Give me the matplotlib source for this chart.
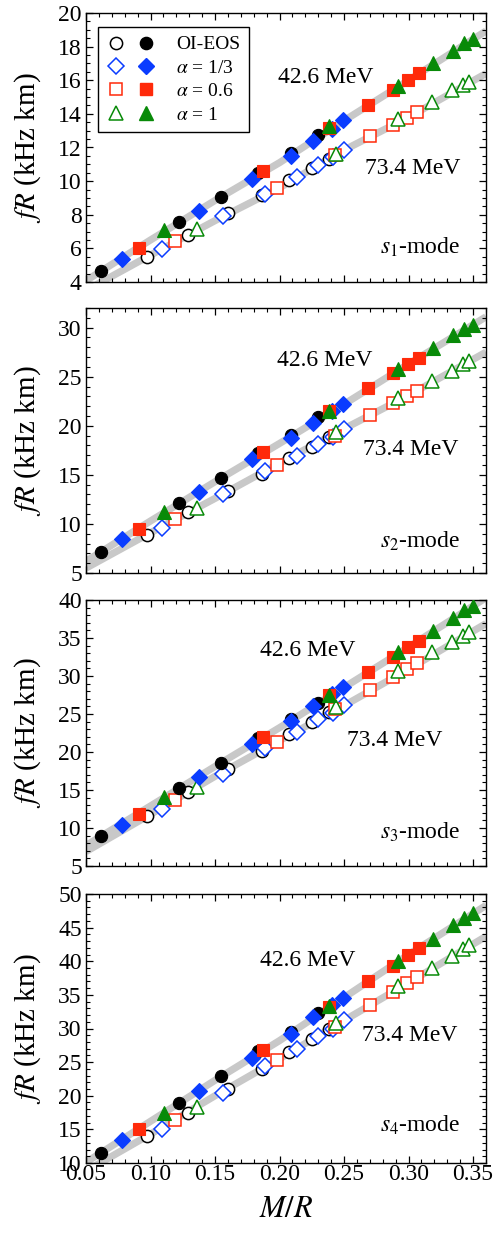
"""
fR versus compactness M/R for the s1..s4 modes, two crust stiffness fits.
"""

import matplotlib

matplotlib.use("Agg")
import matplotlib.pyplot as plt
from matplotlib.legend_handler import HandlerTuple
from matplotlib.lines import Line2D
from matplotlib.ticker import MultipleLocator, FormatStrFormatter

plt.rcParams["font.family"] = ["Liberation Serif", "DejaVu Serif"]
plt.rcParams["mathtext.fontset"] = "stix"

# compactness of each model (same in every panel)
X_OI_FILLED = [0.0614, 0.1223, 0.1544, 0.1833, 0.2086, 0.2300]
X_OI_OPEN = [0.0970, 0.1288, 0.1603, 0.1861, 0.2076, 0.2249, 0.2386]
X_A13_FILLED = [0.0776, 0.1378, 0.1789, 0.2086, 0.2257, 0.2404, 0.2494]
X_A13_OPEN = [0.1092, 0.1564, 0.1887, 0.2133, 0.2301, 0.2412, 0.2502]
X_A06_FILLED = [0.0911, 0.1869, 0.2383, 0.2688, 0.2882, 0.2998, 0.3083]
X_A06_OPEN = [0.1190, 0.1978, 0.2430, 0.2701, 0.2882, 0.2990, 0.3063]
X_A1_FILLED = [0.1104, 0.2386, 0.2921, 0.3187, 0.3342, 0.3432, 0.3497]
X_A1_OPEN = [0.1358, 0.2437, 0.2921, 0.3179, 0.3334, 0.3419, 0.3471]

# s1-mode fR (kHz km)
S1_OI_FILLED = [4.63, 7.57, 9.06, 10.50, 11.67, 12.72]
S1_OI_OPEN = [5.49, 6.82, 8.12, 9.15, 10.09, 10.80, 11.34]
S1_A13_FILLED = [5.39, 8.22, 10.11, 11.49, 12.39, 13.12, 13.62]
S1_A13_OPEN = [5.98, 7.91, 9.25, 10.25, 10.98, 11.43, 11.87]
S1_A06_FILLED = [6.02, 10.58, 13.16, 14.51, 15.44, 16.00, 16.43]
S1_A06_OPEN = [6.44, 9.61, 11.57, 12.66, 13.32, 13.77, 14.11]
S1_A1_FILLED = [7.07, 13.26, 15.64, 17.03, 17.74, 18.24, 18.47]
S1_A1_OPEN = [7.17, 11.63, 13.71, 14.71, 15.40, 15.70, 15.90]

# s2-mode
S2_OI_FILLED = [7.14, 12.12, 14.66, 17.20, 19.07, 20.86]
S2_OI_OPEN = [8.90, 11.20, 13.34, 15.10, 16.69, 17.88, 18.83]
S2_A13_FILLED = [8.49, 13.24, 16.63, 18.73, 20.25, 21.54, 22.22]
S2_A13_OPEN = [9.58, 13.00, 15.37, 16.97, 18.15, 18.90, 19.68]
S2_A06_FILLED = [9.51, 17.31, 21.54, 23.81, 25.34, 26.29, 26.86]
S2_A06_OPEN = [10.46, 16.02, 19.00, 21.10, 22.29, 23.07, 23.58]
S2_A1_FILLED = [11.20, 21.54, 25.78, 27.88, 29.24, 29.85, 30.29]
S2_A1_OPEN = [11.64, 19.34, 22.83, 24.59, 25.61, 26.29, 26.56]

# s3-mode
S3_OI_FILLED = [8.92, 15.24, 18.60, 21.78, 24.40, 26.45]
S3_OI_OPEN = [11.54, 14.68, 17.73, 20.17, 22.35, 23.96, 25.27]
S3_A13_FILLED = [10.45, 16.77, 21.00, 24.05, 26.06, 27.67, 28.54]
S3_A13_OPEN = [12.54, 17.12, 20.48, 22.57, 24.40, 25.14, 26.14]
S3_A06_FILLED = [11.84, 22.00, 27.45, 30.59, 32.46, 33.77, 34.64]
S3_A06_OPEN = [13.72, 21.35, 25.71, 28.19, 29.93, 30.94, 31.72]
S3_A1_FILLED = [14.07, 27.54, 33.12, 35.95, 37.61, 38.65, 39.22]
S3_A1_OPEN = [15.46, 25.92, 30.72, 33.12, 34.42, 35.30, 35.73]

# s4-mode
S4_OI_FILLED = [11.50, 18.90, 22.90, 26.60, 29.50, 32.25]
S4_OI_OPEN = [14.00, 17.50, 21.00, 24.00, 26.50, 28.50, 29.90]
S4_A13_FILLED = [13.35, 20.65, 25.65, 29.25, 31.75, 33.50, 34.60]
S4_A13_OPEN = [15.10, 20.40, 24.35, 27.00, 28.90, 30.00, 31.25]
S4_A06_FILLED = [15.00, 26.75, 33.25, 37.10, 39.35, 41.00, 42.00]
S4_A06_OPEN = [16.40, 25.25, 30.25, 33.50, 35.50, 36.75, 37.65]
S4_A1_FILLED = [17.50, 33.35, 40.00, 43.35, 45.35, 46.50, 47.15]
S4_A1_OPEN = [18.40, 30.75, 36.25, 39.00, 40.75, 41.75, 42.35]

# fitted curves
FIT_X = [0.05, 0.10, 0.15, 0.20, 0.25, 0.30, 0.36]
S1_FIT_HI = [4.08, 6.50, 8.85, 11.10, 13.60, 16.00, 18.93]
S1_FIT_LO = [3.50, 5.60, 7.65, 9.60, 11.85, 13.80, 16.40]
S2_FIT_HI = [6.20, 10.30, 14.30, 18.20, 22.20, 26.30, 31.10]
S2_FIT_LO = [5.50, 9.10, 12.60, 16.20, 19.70, 23.10, 27.50]
S3_FIT_HI = [7.70, 12.90, 18.10, 23.20, 28.50, 33.80, 40.30]
S3_FIT_LO = [6.90, 11.80, 16.80, 21.50, 26.10, 30.90, 36.90]
S4_FIT_HI = [10.10, 16.20, 22.30, 28.20, 34.60, 41.00, 48.30]
S4_FIT_LO = [8.80, 14.30, 20.00, 25.50, 31.20, 36.80, 43.70]

MODE_LABELS = ["$s_1$-mode", "$s_2$-mode", "$s_3$-mode", "$s_4$-mode"]
SERIES_LABELS = ["OI-EOS", r"$\alpha$ = 1/3", r"$\alpha$ = 0.6", r"$\alpha$ = 1"]

SERIES_STYLE = [
    ("o", "black", 8.8),
    ("D", "#0a3cff", 8.6),
    ("s", "#ff2a0a", 8.6),
    ("^", "#088a08", 9.6),
]

modes = [
    dict(
        ys=[S1_OI_FILLED, S1_OI_OPEN, S1_A13_FILLED, S1_A13_OPEN,
            S1_A06_FILLED, S1_A06_OPEN, S1_A1_FILLED, S1_A1_OPEN],
        fit=(S1_FIT_HI, S1_FIT_LO), ylim=(4, 20), major=2, minor=0.5,
        hi=(0.199, 16.15), lo=(0.266, 10.74), label_y=0.13,
    ),
    dict(
        ys=[S2_OI_FILLED, S2_OI_OPEN, S2_A13_FILLED, S2_A13_OPEN,
            S2_A06_FILLED, S2_A06_OPEN, S2_A1_FILLED, S2_A1_OPEN],
        fit=(S2_FIT_HI, S2_FIT_LO), ylim=(5, 32), major=5, minor=1,
        hi=(0.198, 26.6), lo=(0.265, 17.54), label_y=0.12,
    ),
    dict(
        ys=[S3_OI_FILLED, S3_OI_OPEN, S3_A13_FILLED, S3_A13_OPEN,
            S3_A06_FILLED, S3_A06_OPEN, S3_A1_FILLED, S3_A1_OPEN],
        fit=(S3_FIT_HI, S3_FIT_LO), ylim=(5, 40), major=5, minor=1,
        hi=(0.185, 33.4), lo=(0.2525, 21.57), label_y=0.128,
    ),
    dict(
        ys=[S4_OI_FILLED, S4_OI_OPEN, S4_A13_FILLED, S4_A13_OPEN,
            S4_A06_FILLED, S4_A06_OPEN, S4_A1_FILLED, S4_A1_OPEN],
        fit=(S4_FIT_HI, S4_FIT_LO), ylim=(10, 50), major=5, minor=1,
        hi=(0.185, 40.15), lo=(0.2636, 29.0), label_y=0.14,
    ),
]

xs = [X_OI_FILLED, X_OI_OPEN, X_A13_FILLED, X_A13_OPEN,
      X_A06_FILLED, X_A06_OPEN, X_A1_FILLED, X_A1_OPEN]

# panel boxes in pixels (top, bottom) of a 496x1233 canvas
W, H = 496, 1233
boxes = [(13, 282), (308, 573), (600, 866), (894, 1163)]

fig = plt.figure(figsize=(W / 100, H / 100), dpi=100)

for i, (mode, (top, bot)) in enumerate(zip(modes, boxes)):
    ax = fig.add_axes([86 / W, 1 - bot / H, 400 / W, (bot - top) / H])

    for fit in mode["fit"]:
        ax.plot(FIT_X, fit, color="#c8c8c8", linewidth=5.2,
                solid_capstyle="butt", zorder=1)

    for k, (marker, color, size) in enumerate(SERIES_STYLE):
        # open markers (73.4 MeV) then filled (42.6 MeV)
        ax.plot(xs[2 * k + 1], mode["ys"][2 * k + 1], linestyle="none",
                marker=marker, markersize=size, markerfacecolor="white",
                markeredgecolor=color, markeredgewidth=1.1, zorder=3)
        ax.plot(xs[2 * k], mode["ys"][2 * k], linestyle="none",
                marker=marker, markersize=size, markerfacecolor=color,
                markeredgecolor=color, markeredgewidth=0.8, zorder=4)

    ax.text(*mode["hi"], "42.6 MeV", fontsize=17, va="center", ha="left")
    ax.text(*mode["lo"], "73.4 MeV", fontsize=17, va="center", ha="left")
    ax.text(0.935, mode["label_y"], MODE_LABELS[i], fontsize=17,
            transform=ax.transAxes, ha="right", va="center")

    ax.set_xlim(0.05, 0.36)
    ax.set_ylim(*mode["ylim"])
    ax.xaxis.set_major_locator(MultipleLocator(0.05))
    ax.xaxis.set_minor_locator(MultipleLocator(0.01))
    ax.yaxis.set_major_locator(MultipleLocator(mode["major"]))
    ax.yaxis.set_minor_locator(MultipleLocator(mode["minor"]))
    ax.xaxis.set_major_formatter(FormatStrFormatter("%.2f"))
    ax.tick_params(which="both", direction="in", top=True, right=True,
                   labelsize=17, pad=3)
    ax.tick_params(axis="x", pad=1)
    ax.tick_params(which="major", length=5, width=0.9)
    ax.tick_params(which="minor", length=2.8, width=0.8)
    for spine in ax.spines.values():
        spine.set_linewidth(1.0)
    if i < 3:
        ax.tick_params(labelbottom=False)
    else:
        ax.set_xlabel("$M/R$", fontsize=22, labelpad=7)
    ax.set_ylabel("$fR$ (kHz km)", fontsize=21)
    ax.yaxis.set_label_coords(-0.108, 0.5)

    if i == 0:
        handles = []
        for marker, color, size in SERIES_STYLE:
            open_h = Line2D([], [], linestyle="none", marker=marker,
                            markersize=size, markerfacecolor="white",
                            markeredgecolor=color, markeredgewidth=1.1)
            fill_h = Line2D([], [], linestyle="none", marker=marker,
                            markersize=size, markerfacecolor=color,
                            markeredgecolor=color)
            handles.append((open_h, fill_h))
        leg = ax.legend(handles, SERIES_LABELS, loc="upper left",
                        handler_map={tuple: HandlerTuple(ndivide=None, pad=0.6)},
                        fontsize=14, handlelength=2.5, handletextpad=1.05,
                        borderpad=0.45, labelspacing=0.3, borderaxespad=0,
                        bbox_to_anchor=(0.03, 0.948), frameon=True,
                        fancybox=False, edgecolor="black", framealpha=1)
        leg.get_frame().set_linewidth(1.0)

fig.savefig("out.png", dpi=100)
